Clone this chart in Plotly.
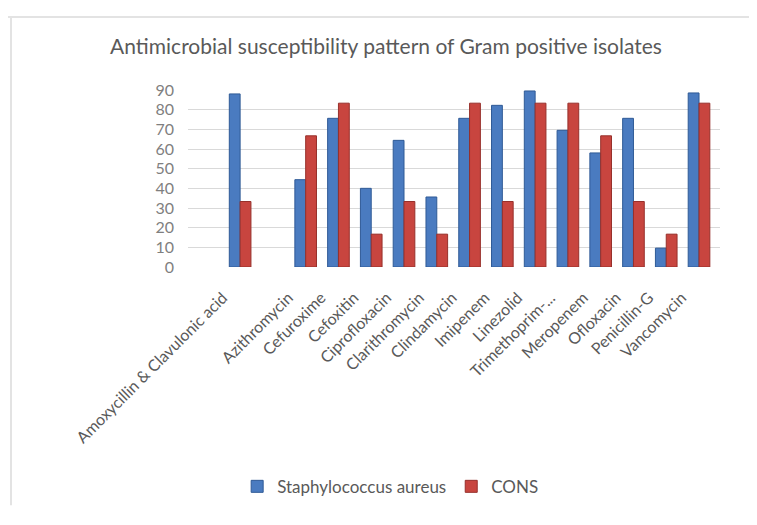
import plotly.graph_objects as go

categories = ["Amoxycillin & Clavulonic acid", " ", "Azithromycin", "Cefuroxime", "Cefoxitin",
              "Ciprofloxacin", "Clarithromycin", "Clindamycin", "Imipenem", "Linezolid",
              "Trimethoprim-...", "Meropenem", "Ofloxacin", "Penicillin-G", "Vancomycin"]
staph_aureus = [88, None, 44.4, 75.6, 40, 64.4, 35.6, 75.6, 82.2, 89.5, 69.5, 58, 75.6, 9.6, 88.5]
cons = [33.3, None, 66.7, 83.3, 16.7, 33.3, 16.7, 83.3, 33.3, 83.3, 83.3, 66.7, 33.3, 16.7, 83.3]
y_ticks = [0, 10, 20, 30, 40, 50, 60, 70, 80, 90]

W, H = 741, 509
L, R, T, B = 180, 29, 82, 245
PW, PH = W - L - R, H - T - B

fig = go.Figure()
fig.add_bar(x=categories, y=staph_aureus, name="Staphylococcus aureus",
            marker=dict(color="#4A7BC0", line=dict(color="#2F5A96", width=1)))
fig.add_bar(x=categories, y=cons, name="CONS",
            marker=dict(color="#C8453F", line=dict(color="#97302B", width=1)))

fig.update_layout(
    width=W, height=H,
    paper_bgcolor="white", plot_bgcolor="white",
    margin=dict(l=L, r=R, t=T, b=B),
    barmode="group", bargap=0.34, bargroupgap=0.0,
    font=dict(family="Lato, Open Sans, sans-serif", color="#595959"),
    title=dict(text="Antimicrobial susceptibility pattern of Gram positive isolates",
               x=378 / W, xanchor="center", y=1 - 39 / H, yanchor="middle", yref="container",
               font=dict(size=21, color="#595959")),
    legend=dict(orientation="h", x=0.38, xanchor="center", y=(264 - 490) / PH, yanchor="middle",
                font=dict(size=17, color="#595959"), itemwidth=30, traceorder="normal"),
    showlegend=True,
)
fig.update_xaxes(type="category", range=[-1.59, 14.64], tickangle=-45,
                 tickvals=categories, ticktext=[c + "\u00a0" * 6 for c in categories],
                 tickfont=dict(size=16, color="#595959"), showgrid=False,
                 showline=False, ticks="", ticklabelstandoff=0)
fig.update_yaxes(range=[0, 90], tickvals=y_ticks, showgrid=True, gridcolor="#D9D9D9",
                 gridwidth=1, zeroline=False, tickfont=dict(size=16, color="#7F7F7F"),
                 ticklabelstandoff=13, showline=False)

# chart border
fig.add_shape(type="line", xref="paper", yref="paper", x0=-L / PW, x1=(W - L) / PW,
              y0=1 + (T - 7) / PH, y1=1 + (T - 7) / PH, line=dict(color="#E3E3E3", width=2))
fig.add_shape(type="line", xref="paper", yref="paper", x0=(3 - L) / PW, x1=(3 - L) / PW,
              y0=1 + (T - 7) / PH, y1=-B / PH, line=dict(color="#E3E3E3", width=2))

fig.write_html("out.html")
